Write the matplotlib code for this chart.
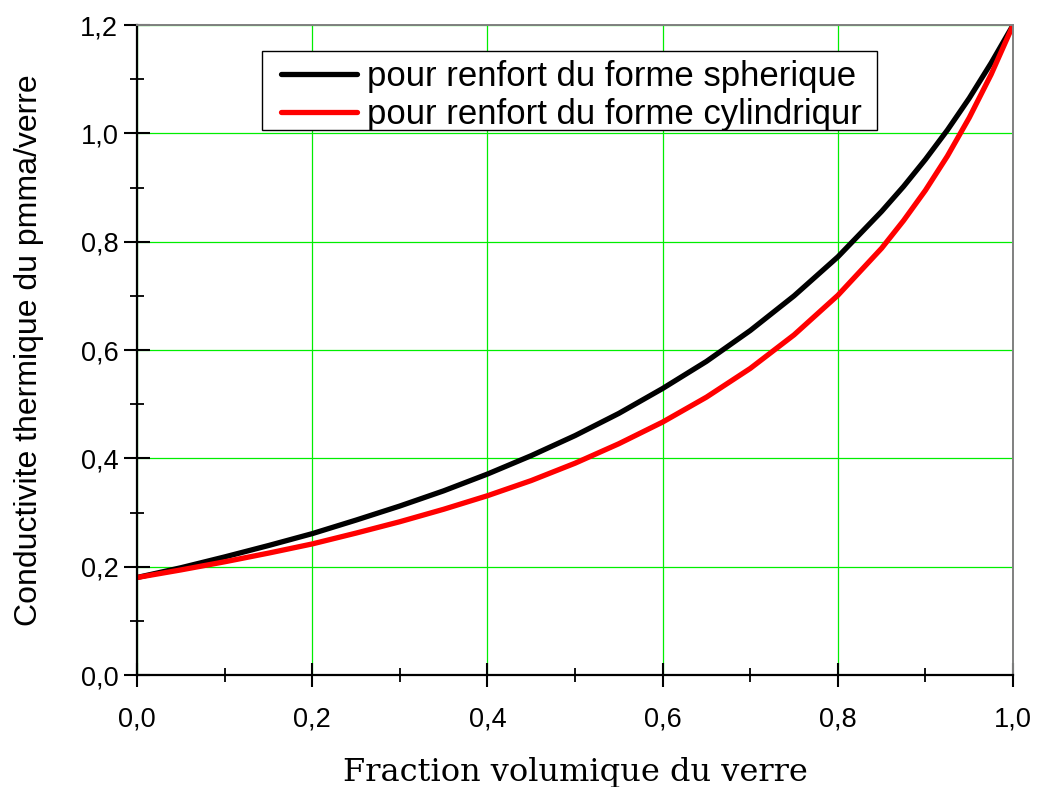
import numpy as np
import matplotlib
matplotlib.use('Agg')
import matplotlib.pyplot as plt
from matplotlib.ticker import MultipleLocator, FuncFormatter
from matplotlib.patches import Rectangle
from matplotlib.legend_handler import HandlerLine2D

# fraction volumique du verre
phi = [0.0, 0.05, 0.1, 0.15, 0.2, 0.25, 0.3, 0.35, 0.4, 0.45, 0.5, 0.55,
       0.6, 0.65, 0.7, 0.75, 0.8, 0.85, 0.875, 0.9, 0.925, 0.95, 0.975, 1.0]
# conductivite, renfort spherique
k_sph = [0.180, 0.198, 0.218, 0.239, 0.261, 0.286, 0.312, 0.340, 0.371, 0.405,
         0.442, 0.483, 0.529, 0.579, 0.636, 0.700, 0.772, 0.856, 0.902, 0.952,
         1.006, 1.065, 1.130, 1.200]
# conductivite, renfort cylindrique
k_cyl = [0.180, 0.194, 0.209, 0.225, 0.242, 0.262, 0.283, 0.306, 0.331, 0.359,
         0.391, 0.427, 0.467, 0.513, 0.566, 0.628, 0.701, 0.788, 0.839, 0.895,
         0.958, 1.029, 1.109, 1.200]

labels = ['pour renfort du forme spherique', 'pour renfort du forme cylindriqur']

plt.rcParams['font.family'] = ['Liberation Sans', 'DejaVu Sans']

fig = plt.figure(figsize=(10.38, 7.87), dpi=100)
ax = fig.add_axes([0.132, 0.1423, 0.844, 0.8259])

l1, = ax.plot(phi, k_sph, color='black', lw=3.8, label=labels[0], solid_capstyle='round')
l2, = ax.plot(phi, k_cyl, color='red', lw=3.8, label=labels[1], solid_capstyle='round')

ax.set_xlim(0, 1)
ax.set_ylim(0, 1.2)
ax.xaxis.set_major_locator(MultipleLocator(0.2))
ax.xaxis.set_minor_locator(MultipleLocator(0.1))
ax.yaxis.set_major_locator(MultipleLocator(0.2))
ax.yaxis.set_minor_locator(MultipleLocator(0.1))
fmt = FuncFormatter(lambda v, p: ('%.1f' % v).replace('.', ','))
ax.xaxis.set_major_formatter(fmt)
ax.yaxis.set_major_formatter(fmt)

ax.grid(True, which='major', color='#00ee00', lw=0.9)
ax.set_axisbelow(True)

for s in ['left', 'bottom']:
    ax.spines[s].set_linewidth(1.6)
    ax.spines[s].set_color('black')
for s in ['top', 'right']:
    ax.spines[s].set_linewidth(1.4)
    ax.spines[s].set_color('#808080')

ax.tick_params(which='major', direction='inout', length=19, width=1.5,
               labelsize=19.5, colors='black', pad=4)
ax.tick_params(axis='x', which='major', length=17, pad=14)
ax.tick_params(which='minor', direction='inout', length=10, width=1.3)

ax.set_ylabel('Conductivite thermique du pmma/verre', fontsize=23, labelpad=26)
ax.set_xlabel('Fraction volumique du verre', fontsize=23,
              family='DejaVu Serif', labelpad=18)

# cadre de la legende, plus large que le texte
ax.add_patch(Rectangle((0.1427, 0.8385), 0.702, 0.1215, transform=ax.transAxes,
                       facecolor='white', edgecolor='black', lw=1.0, zorder=4))
hm = {l1: HandlerLine2D(xpad=0.43), l2: HandlerLine2D(xpad=0.43)}
leg = ax.legend(loc='upper left', bbox_to_anchor=(0.1427, 0.9523), fontsize=25,
                frameon=False, handler_map=hm,
                handlelength=2.62, handletextpad=0.29, borderpad=0.12,
                labelspacing=0.15, borderaxespad=0)
leg.set_zorder(5)

fig.savefig('out.png', dpi=100)
